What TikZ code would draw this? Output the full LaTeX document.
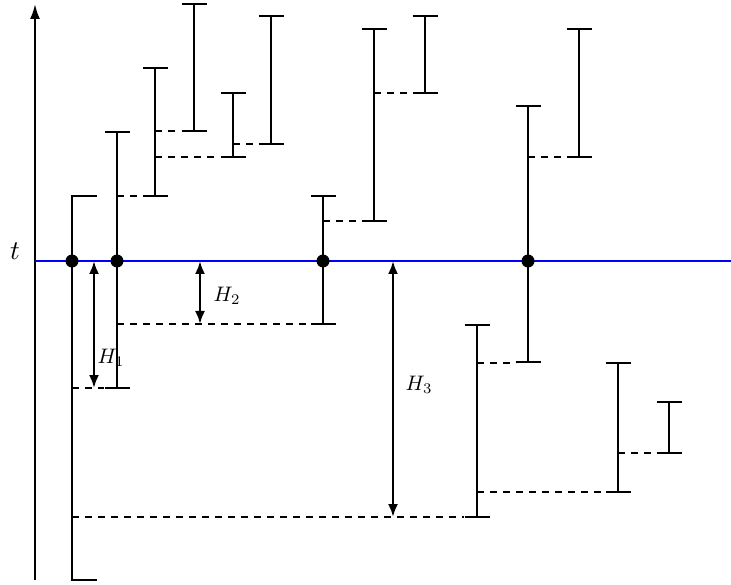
\documentclass[tikz,border=0pt]{standalone}
\usetikzlibrary{arrows.meta}
\begin{document}
\begin{tikzpicture}[x=1pt,y=-1pt,
  bar/.style={line width=2.3pt},
  dsh/.style={line width=2.1pt,dash pattern=on 7pt off 6pt},
  gap/.style={line width=2.3pt,{Latex[length=13pt,width=10pt]}-{Latex[length=13pt,width=10pt]}},
  axisline/.style={line width=2.1pt,-{Latex[length=15pt,width=10pt]}},
  tline/.style={line width=2.1pt,blue},
  dotnode/.style={circle,fill=black,inner sep=0pt,minimum size=13pt},
  hlabel/.style={scale=2.1,inner sep=0pt}]
\useasboundingbox (0,0) rectangle (731,585);
% axis and level t
\coordinate (ax0) at (35,580);
\coordinate (ax1) at (35,4);
\draw[axisline] (ax0) -- (ax1);
\coordinate (tl0) at (35,261);
\coordinate (tl1) at (731,261);
\draw[tline] (tl0) -- (tl1);
\node[scale=2.7] (tlab) at (15,251) {$t$};
% bars: name/x/top/bottom
\foreach \n/\x/\a/\b in {b2/117/132/388, b3/155/68/196, b4/194/4/131, b5/233/93/157,
  b6/271/16/144, b7/323/196/324, b8/374/29/221, b9/425/16/93, b10/528/106/362,
  b11/579/29/157, b12/477/325/517, b13/618/363/492, b14/669/402/453}{
  \coordinate (\n t) at (\x,\a);
  \coordinate (\n b) at (\x,\b);
  \draw[bar] ([xshift=-12.5pt]\n t) -- ([xshift=12.5pt]\n t)
             (\n t) -- (\n b)
             ([xshift=-12.5pt]\n b) -- ([xshift=12.5pt]\n b);
}
% first (half-capped) bar
\coordinate (b1t) at (72,196);
\coordinate (b1b) at (72,580);
\draw[bar] ([xshift=25pt]b1t) -- (b1t) -- (b1b) -- ([xshift=25pt]b1b);
% dashed links
\coordinate (d1a) at (72,388);  \coordinate (d1b) at (104,388);
\coordinate (d2a) at (117,196); \coordinate (d2b) at (143,196);
\coordinate (d3a) at (155,131); \coordinate (d3b) at (181,131);
\coordinate (d4a) at (155,157); \coordinate (d4b) at (220,157);
\coordinate (d5a) at (233,144); \coordinate (d5b) at (258,144);
\coordinate (d6a) at (117,324); \coordinate (d6b) at (310,324);
\coordinate (d7a) at (323,221); \coordinate (d7b) at (361,221);
\coordinate (d8a) at (374,93);  \coordinate (d8b) at (413,93);
\coordinate (d9a) at (528,157); \coordinate (d9b) at (567,157);
\coordinate (d10a) at (477,363); \coordinate (d10b) at (516,363);
\coordinate (d11a) at (477,492); \coordinate (d11b) at (606,492);
\coordinate (d12a) at (618,453); \coordinate (d12b) at (657,453);
\coordinate (d13a) at (72,517);  \coordinate (d13b) at (464,517);
\foreach \i in {1,...,13}{\draw[dsh] (d\i a) -- (d\i b);}
% dots on level t
\node[dotnode] (p1) at (72,261) {};
\node[dotnode] (p2) at (117,261) {};
\node[dotnode] (p3) at (323,261) {};
\node[dotnode] (p4) at (528,261) {};
% gaps H1..H3
\coordinate (h1a) at (94,261);  \coordinate (h1b) at (94,388);
\coordinate (h2a) at (200,261); \coordinate (h2b) at (200,324);
\coordinate (h3a) at (393,261); \coordinate (h3b) at (393,517);
\draw[gap] (h1a) -- (h1b);
\draw[gap] (h2a) -- (h2b);
\draw[gap] (h3a) -- (h3b);
\node[hlabel] (H1) at (111,358) {$H_1$};
\node[hlabel] (H2) at (227,296) {$H_2$};
\node[hlabel] (H3) at (419,385) {$H_3$};
\end{tikzpicture}
\end{document}
